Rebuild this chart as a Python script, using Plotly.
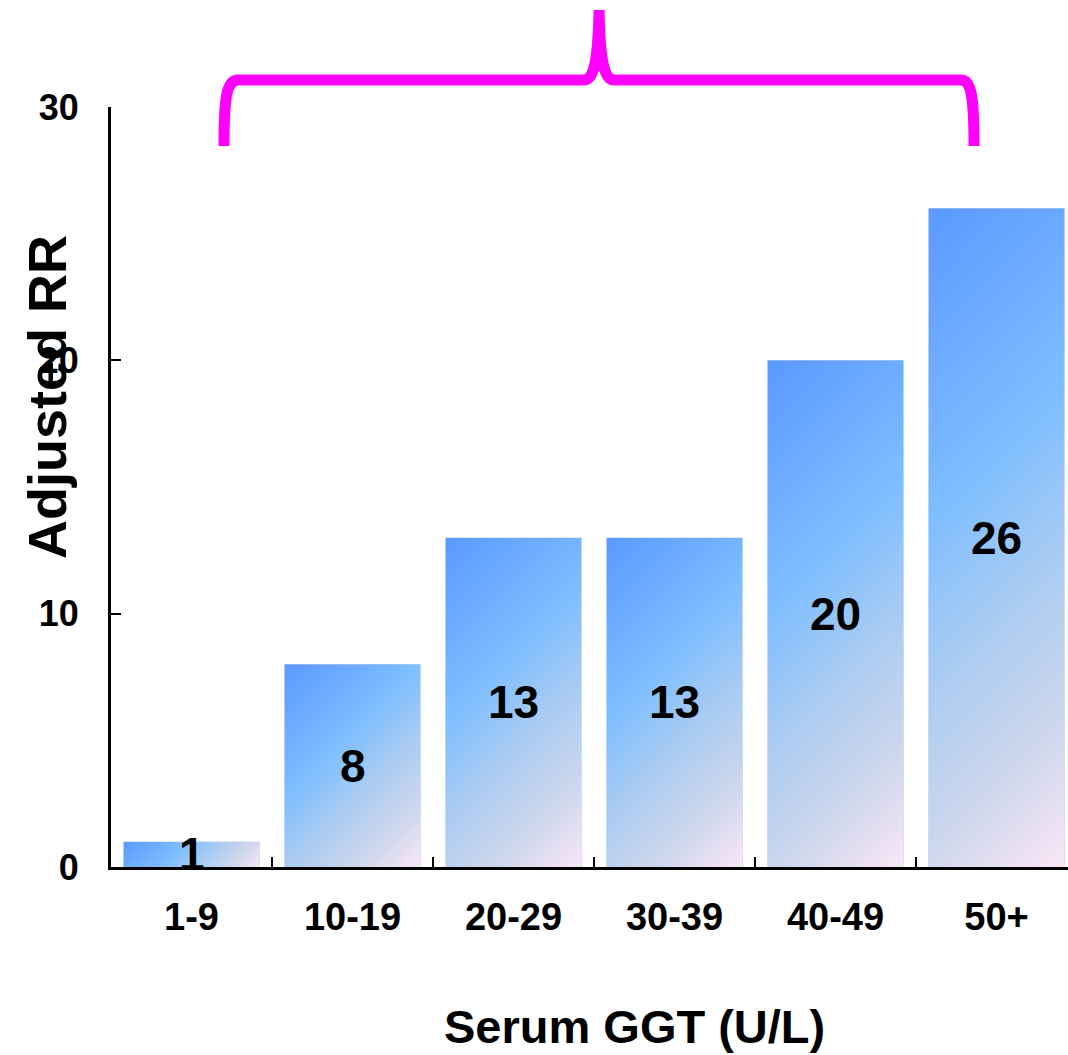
import base64
import plotly.graph_objects as go

# Adjusted relative risk by serum GGT band
categories = ["1-9", "10-19", "20-29", "30-39", "40-49", "50+"]
adjusted_rr = [1, 8, 13, 13, 20, 26]
y_ticks = [0, 10, 20, 30]

FONT = "Liberation Sans, Arial, sans-serif"
W, H = 1068, 1055
M_L, M_R, M_T, M_B = 111, 0, 107, 188
PLOT_W = W - M_L - M_R
PLOT_H = H - M_T - M_B
CAT_PX = 161                      # pixel width of one category slot
BAR_W = 0.845                     # bar width as a fraction of a slot
Y_MAX = 30

x_range = [-0.5, -0.5 + PLOT_W / CAT_PX]

GRAD_STOPS = [
    (0.00, "#5A99FF"),
    (0.40, "#7FBEFF"),
    (0.60, "#A9CBF2"),
    (0.82, "#CFD7EC"),
    (1.00, "#FBE6F7"),
]


def gradient_svg(w_px, h_px):
    """Diagonal (45 deg) gradient filling a w x h box, top-left to bottom-right."""
    s = (w_px + h_px) / 2
    stops = "".join(
        f'<stop offset="{o}" stop-color="{c}"/>' for o, c in GRAD_STOPS
    )
    svg = (
        f'<svg xmlns="http://www.w3.org/2000/svg" width="{w_px:.1f}" height="{h_px:.1f}" '
        f'viewBox="0 0 {w_px:.1f} {h_px:.1f}" preserveAspectRatio="none">'
        f'<defs><linearGradient id="g" gradientUnits="userSpaceOnUse" '
        f'x1="0" y1="0" x2="{s:.1f}" y2="{s:.1f}">{stops}</linearGradient></defs>'
        f'<rect x="0" y="0" width="{w_px:.1f}" height="{h_px:.1f}" fill="url(#g)"/></svg>'
    )
    return "data:image/svg+xml;base64," + base64.b64encode(svg.encode()).decode()


fig = go.Figure()
fig.add_trace(go.Bar(
    x=categories,
    y=adjusted_rr,
    width=BAR_W,
    marker=dict(color="#9CC4F5", line=dict(width=0)),
    hoverinfo="x+y",
))

# gradient skin laid over each bar, sized from its value
images = []
for i, v in enumerate(adjusted_rr):
    images.append(dict(
        source=gradient_svg(BAR_W * CAT_PX, v / Y_MAX * PLOT_H),
        xref="x", yref="y",
        x=i - BAR_W / 2, y=v,
        sizex=BAR_W, sizey=v,
        sizing="stretch", xanchor="left", yanchor="top",
        layer="above",
    ))

annotations = []
for i, v in enumerate(adjusted_rr):
    annotations.append(dict(
        x=i, y=v / 2, xref="x", yref="y",
        text=str(v), showarrow=False,
        font=dict(family=FONT, size=46, color="black", weight="bold"),
        xanchor="center", yanchor="middle",
    ))

# axis titles
annotations.append(dict(
    x=(47 - M_L) / PLOT_W, y=(PLOT_H + M_T - 397) / PLOT_H,
    xref="paper", yref="paper", text="Adjusted RR", showarrow=False,
    textangle=-90, font=dict(family=FONT, size=54, color="black", weight="bold"),
    xanchor="center", yanchor="middle",
))
annotations.append(dict(
    x=(634 - M_L) / PLOT_W, y=(PLOT_H + M_T - 1026) / PLOT_H,
    xref="paper", yref="paper", text="Serum GGT (U/L)", showarrow=False,
    font=dict(family=FONT, size=47, color="black", weight="bold"),
    xanchor="center", yanchor="middle",
))


def px(xp, yp):
    """Page pixel -> paper coordinates."""
    return (xp - M_L) / PLOT_W, (M_T + PLOT_H - yp) / PLOT_H


# curly brace spanning the bands above the bars
pts = [
    ("M", [(224, 146)]),
    ("C", [(224, 100), (226, 80), (238, 80)]),
    ("L", [(584, 80)]),
    ("C", [(594, 80), (598, 60), (599, 10)]),
    ("C", [(600, 60), (604, 80), (614, 80)]),
    ("L", [(961, 80)]),
    ("C", [(972, 80), (974, 100), (974, 146)]),
]
path = ""
for cmd, coords in pts:
    path += cmd + " " + " ".join(f"{px(a, b)[0]:.5f},{px(a, b)[1]:.5f}" for a, b in coords) + " "

shapes = [dict(
    type="path", xref="paper", yref="paper", path=path.strip(),
    line=dict(color="#FF00FF", width=11), fillcolor="rgba(0,0,0,0)",
    layer="above",
)]

fig.update_layout(
    width=W, height=H,
    margin=dict(l=M_L, r=M_R, t=M_T, b=M_B, pad=0),
    paper_bgcolor="white", plot_bgcolor="white",
    showlegend=False,
    bargap=1 - BAR_W,
    images=images,
    annotations=annotations,
    shapes=shapes,
    xaxis=dict(
        type="category", range=x_range,
        showline=True, linecolor="black", linewidth=3,
        ticks="inside", ticklen=10, tickwidth=2, tickcolor="black",
        tickson="boundaries",
        tickfont=dict(family=FONT, size=38, color="black", weight="bold"),
        ticklabelstandoff=14,
        showgrid=False, zeroline=False,
    ),
    yaxis=dict(
        range=[0, Y_MAX], tickvals=y_ticks,
        ticktext=[str(t) for t in y_ticks],
        showline=True, linecolor="black", linewidth=3,
        ticks="inside", ticklen=10, tickwidth=2, tickcolor="black",
        tickfont=dict(family=FONT, size=36, color="black", weight="bold"),
        ticklabelstandoff=22,
        showgrid=False, zeroline=False,
    ),
)

fig.write_html("out.html")
